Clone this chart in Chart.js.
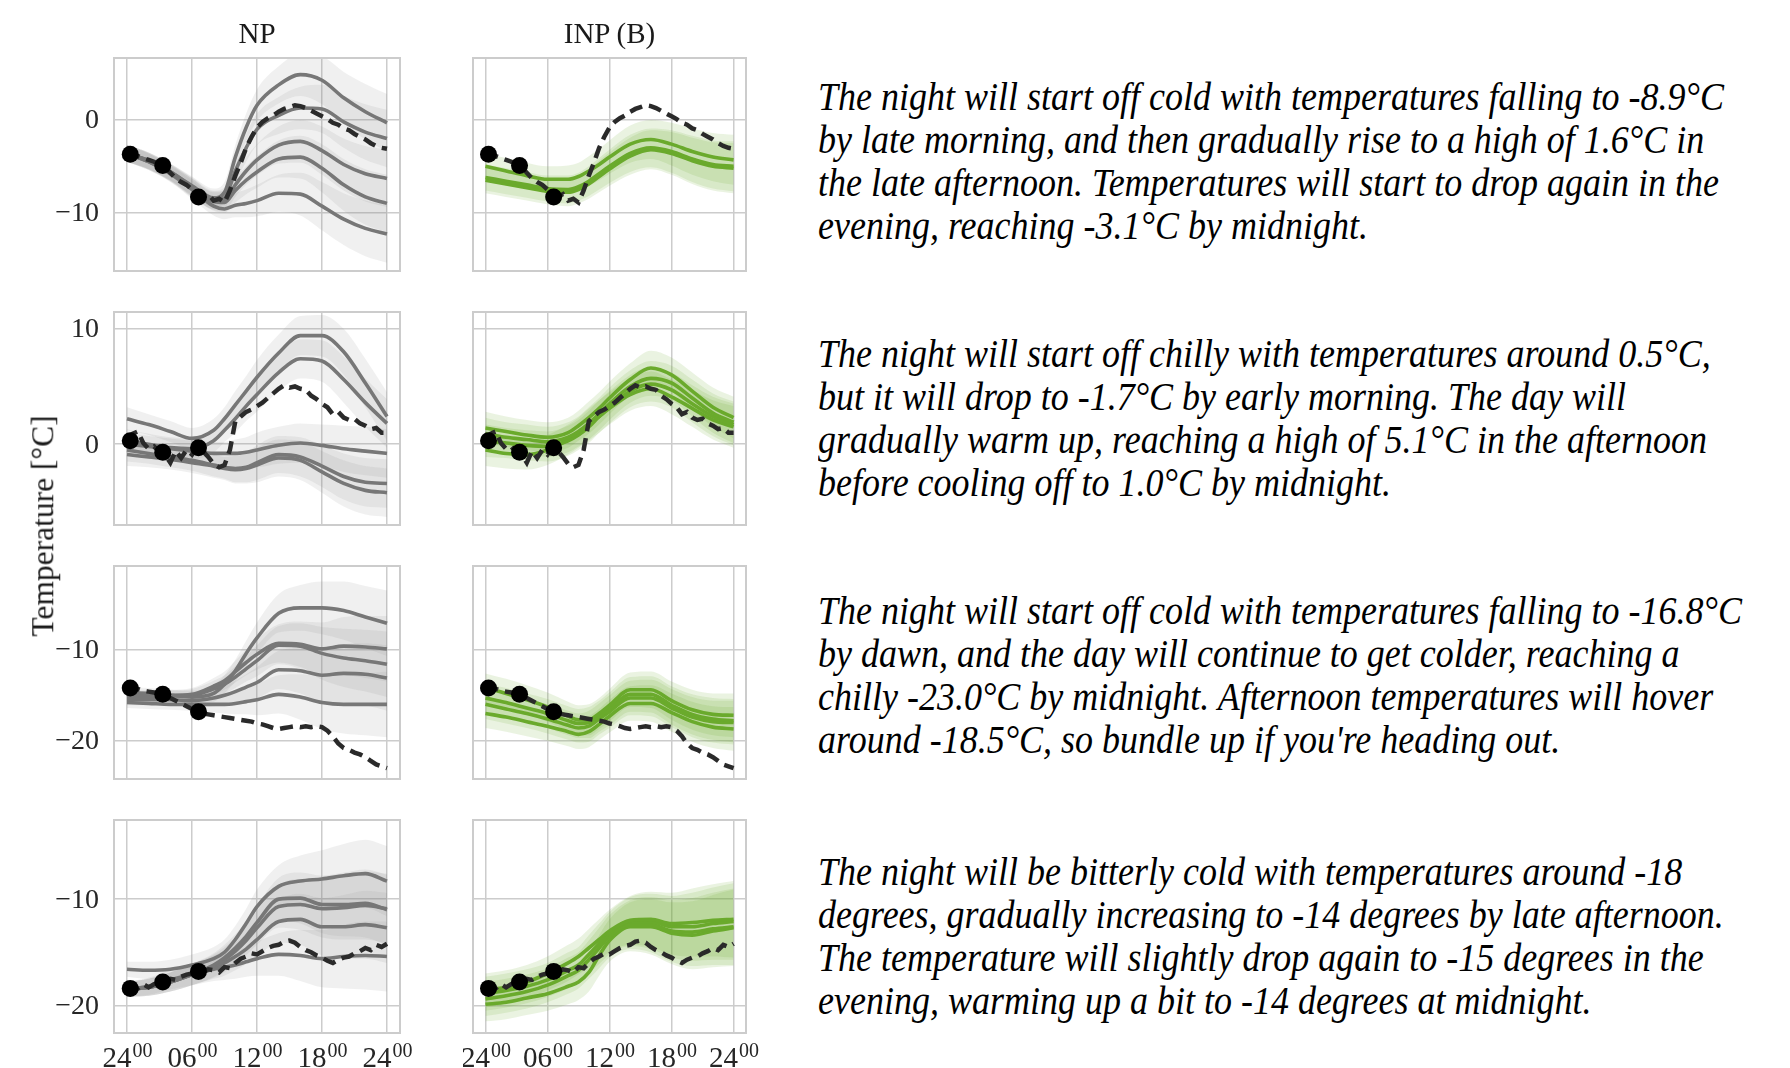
<!DOCTYPE html>
<html>
<head>
<meta charset="utf-8">
<script src="https://cdn.jsdelivr.net/npm/chart.js@4.4.1/dist/chart.umd.min.js"></script>
<style>
  html, body { margin: 0; padding: 0; background: #fff; width: 1790px; height: 1068px; overflow: hidden; }
  body { position: relative; font-family: "Liberation Serif", "Times New Roman", serif; color: #1a1a1a; }
  canvas { position: absolute; }
  .title { position: absolute; font-size: 29px; line-height: 1; white-space: nowrap; transform: translateX(-50%); }
  .ylab { position: absolute; font-size: 31.5px; line-height: 1; white-space: nowrap; transform: translate(-50%, -50%) rotate(-90deg); }
  .line { position: absolute; font-size: 40px; font-style: italic; line-height: 1; white-space: nowrap; transform-origin: 0 0; color: #000; }
</style>
</head>
<body>
<script>
// ---- time grids (hours after midnight) ----
const HOURS = [0, 2, 4, 6, 8, 9, 10, 11, 12, 14, 16, 18, 20, 22, 24];
const OBS_HOURS = [0, 0.5, 1, 1.5, 2, 2.5, 3, 3.5, 4, 4.5, 5, 5.5, 6, 6.5, 7, 7.5, 8, 8.5, 9, 9.5,
  10, 10.5, 11, 11.5, 12, 12.5, 13, 13.5, 14, 14.5, 15, 15.5, 16, 16.5, 17, 17.5, 18, 18.5, 19, 19.5,
  20, 20.5, 21, 21.5, 22, 22.5, 23, 23.5, 24];
const CTX_HOURS = [0.3, 3.3, 6.6];

// ---- axis ticks ----
const X_TICKS = [0, 6, 12, 18, 24];
const X_TICK_LABELS = ['24', '06', '12', '18', '24'];
const X_TICK_SUP = '00';
const ROW1_YTICKS = [0, -10];
const ROW2_YTICKS = [10, 0];
const ROW3_YTICKS = [-10, -20];
const ROW4_YTICKS = [-10, -20];

const COLUMN_TITLES = ['NP', 'INP (B)'];
const Y_TITLE = 'Temperature [°C]';

// ---- row 1 ----
const row1Obs = [-3.6, -3.7, -3.9, -4.1, -4.3, -4.5, -4.8, -5.1, -5.7, -6.3, -6.7, -7.0, -7.5, -8.1, -8.3, -8.0,
  -8.7, -8.5, -8.9, -7.6, -6.0, -4.6, -3.0, -1.8, -0.8, -0.2, 0.2, 0.5, 0.9, 1.2, 1.4, 1.6, 1.5, 1.3, 1.0, 0.7,
  0.4, 0.1, -0.3, -0.5, -0.9, -1.1, -1.5, -1.8, -2.1, -2.5, -2.8, -3.0, -3.1];
const row1Ctx = [-3.7, -4.9, -8.3];
const row1Np = [
  [-3.6, -4.4, -5.6, -7.1, -8.4, -7.8, -4.0, -0.8, 1.6, 3.8, 4.9, 4.3, 2.4, 0.9, -0.3],
  [-3.6, -4.4, -5.6, -7.2, -8.6, -8.4, -5.5, -3.0, -1.0, 0.5, 1.3, 1.2, -0.2, -1.3, -2.0],
  [-3.6, -4.4, -5.7, -7.3, -8.7, -8.7, -7.0, -5.5, -4.3, -2.7, -2.3, -3.3, -4.8, -5.8, -6.3],
  [-3.6, -4.5, -5.7, -7.3, -8.8, -8.9, -7.6, -6.5, -5.6, -4.2, -4.0, -5.2, -7.0, -8.3, -9.0],
  [-3.6, -4.5, -5.8, -7.5, -9.3, -9.6, -9.2, -9.0, -8.7, -7.9, -8.0, -9.3, -10.7, -11.7, -12.3]
];
const row1NpSpread = [0.9, 0.9, 0.9, 1.0, 1.0, 1.1, 1.3, 1.5, 1.7, 2.0, 2.3, 2.6, 2.8, 3.0, 3.1];
const row1Inp = [
  [-5.0, -5.5, -6.0, -6.4, -6.4, -6.1, -5.5, -4.8, -4.0, -2.6, -2.1, -2.6, -3.4, -4.0, -4.3],
  [-6.2, -6.6, -7.0, -7.4, -7.5, -7.2, -6.6, -5.8, -5.0, -3.6, -3.0, -3.4, -4.2, -4.8, -5.0],
  [-6.5, -6.9, -7.3, -7.7, -7.8, -7.5, -6.9, -6.1, -5.3, -3.9, -3.2, -3.6, -4.4, -5.0, -5.2]
];
const row1InpSpread = [1.4, 1.4, 1.4, 1.4, 1.5, 1.5, 1.6, 1.7, 1.8, 2.0, 2.1, 2.3, 2.5, 2.6, 2.7];

// ---- row 2 ----
const row2Obs = [0.4, 0.9, 1.1, 0.1, -0.4, -0.2, -0.7, -0.9, -1.6, -0.6, -1.2, -0.5, -0.9, -0.2, -0.6, -1.1,
  -1.7, -2.0, -1.8, -0.5, 2.0, 2.4, 2.8, 3.0, 3.3, 3.6, 4.0, 4.4, 4.8, 5.1, 4.9, 5.0, 4.8, 4.7, 4.2, 3.9,
  3.5, 3.2, 2.6, 2.8, 2.3, 2.1, 2.2, 1.8, 1.6, 1.3, 1.4, 1.0, 1.0];
const row2Ctx = [0.3, -0.7, -0.3];
const row2Np = [
  [2.2, 1.7, 1.1, 0.5, 1.2, 2.2, 3.4, 4.6, 5.8, 7.9, 9.4, 9.4, 8.0, 5.3, 2.4],
  [0.3, 0.0, -0.3, -0.4, 0.3, 1.2, 2.2, 3.3, 4.3, 6.2, 7.4, 7.2, 5.6, 3.6, 1.8],
  [0.0, -0.2, -0.4, -0.6, -0.8, -0.8, -0.8, -0.7, -0.5, -0.1, 0.1, -0.1, -0.4, -0.6, -0.8],
  [-0.5, -0.8, -1.1, -1.4, -1.8, -2.0, -2.1, -2.0, -1.6, -0.9, -1.1, -1.9, -2.8, -3.3, -3.4],
  [-0.9, -1.1, -1.3, -1.6, -1.9, -2.1, -2.2, -2.1, -1.8, -1.2, -1.4, -2.4, -3.4, -4.0, -4.2]
];
const row2NpSpread = [1.0, 0.9, 0.9, 0.9, 1.0, 1.0, 1.2, 1.3, 1.5, 1.6, 1.7, 1.8, 2.0, 2.1, 2.1];
const row2Inp = [
  [1.4, 1.1, 0.8, 0.6, 1.0, 1.6, 2.3, 3.1, 4.0, 5.6, 6.6, 6.0, 4.6, 3.2, 2.3],
  [0.9, 0.6, 0.4, 0.2, 0.6, 1.1, 1.8, 2.6, 3.5, 5.0, 5.7, 5.3, 4.0, 2.7, 1.9],
  [0.3, 0.1, -0.1, -0.2, 0.3, 0.8, 1.5, 2.4, 3.2, 4.6, 5.2, 4.7, 3.5, 2.4, 1.7],
  [-0.5, -0.8, -0.9, -0.5, 0.4, 1.0, 1.7, 2.4, 3.1, 4.3, 4.8, 4.1, 3.1, 2.1, 1.5]
];
const row2InpSpread = [1.4, 1.3, 1.3, 1.3, 1.3, 1.3, 1.4, 1.4, 1.4, 1.4, 1.5, 1.5, 1.6, 1.7, 1.8];

// ---- row 3 ----
const row3Obs = [-14.1, -14.2, -14.3, -14.5, -14.6, -14.7, -14.8, -15.0, -15.3, -15.6, -15.9, -16.2, -16.5,
  -16.8, -17.0, -17.1, -17.2, -17.3, -17.4, -17.5, -17.6, -17.7, -17.8, -17.9, -18.1, -18.2, -18.4, -18.6,
  -18.7, -18.6, -18.5, -18.4, -18.5, -18.4, -18.5, -18.4, -18.5, -18.9, -19.5, -20.3, -20.8, -21.0, -21.3,
  -21.5, -21.8, -22.2, -22.6, -22.8, -23.0];
const row3Ctx = [-14.2, -14.9, -16.8];
const row3Np = [
  [-14.7, -14.8, -15.0, -15.2, -14.8, -13.8, -12.3, -10.4, -8.7, -6.0, -5.4, -5.4, -5.7, -6.4, -7.1],
  [-15.0, -15.0, -15.0, -14.9, -14.0, -13.4, -12.4, -11.4, -10.5, -9.3, -9.4, -9.9, -9.6, -9.7, -9.9],
  [-15.2, -15.2, -15.1, -15.0, -14.3, -13.8, -13.0, -12.1, -11.2, -9.5, -9.6, -10.4, -10.9, -11.2, -11.6],
  [-15.5, -15.5, -15.5, -15.6, -15.3, -15.0, -14.6, -14.1, -13.6, -12.2, -12.3, -12.8, -12.6, -12.7, -13.1],
  [-15.8, -15.9, -16.0, -16.0, -16.0, -16.0, -15.9, -15.7, -15.5, -14.9, -15.2, -15.8, -16.0, -16.0, -16.0]
];
const row3NpSpread = [0.6, 0.6, 0.6, 0.7, 0.9, 1.0, 1.2, 1.4, 1.7, 2.1, 2.5, 2.9, 3.2, 3.4, 3.6];
const row3Inp = [
  [-14.2, -14.8, -15.5, -16.3, -17.3, -17.7, -17.7, -17.0, -16.1, -14.4, -14.4, -15.6, -16.6, -17.1, -17.2],
  [-15.3, -15.8, -16.4, -17.0, -17.8, -18.1, -18.0, -17.3, -16.5, -14.9, -14.9, -16.1, -17.1, -17.6, -17.8],
  [-16.0, -16.5, -17.0, -17.6, -18.3, -18.6, -18.4, -17.6, -16.8, -15.3, -15.3, -16.4, -17.4, -17.9, -18.0],
  [-17.0, -17.4, -17.9, -18.4, -19.0, -19.3, -19.0, -18.2, -17.3, -15.9, -15.9, -16.9, -17.9, -18.5, -18.7]
];
const row3InpSpread = [1.6, 1.6, 1.6, 1.6, 1.6, 1.6, 1.7, 1.7, 1.8, 1.9, 2.0, 2.1, 2.2, 2.3, 2.4];

// ---- row 4 ----
const row4Obs = [-18.5, -18.3, -18.4, -18.0, -18.3, -18.0, -17.9, -17.8, -17.5, -17.6, -17.3, -17.1, -17.0,
  -16.8, -16.9, -16.6, -16.7, -16.9, -16.4, -16.5, -16.0, -15.6, -15.4, -15.1, -15.2, -14.9, -14.6, -14.4,
  -14.3, -14.0, -13.9, -14.1, -14.5, -14.8, -15.0, -15.3, -15.5, -15.8, -16.0, -15.7, -15.5, -15.4, -15.1,
  -14.9, -14.6, -14.8, -14.3, -14.5, -14.2];
const row4Ctx = [-18.4, -17.8, -16.8];
const row4Np = [
  [-16.6, -16.7, -16.6, -16.2, -15.6, -15.0, -13.8, -12.3, -10.7, -8.8, -8.3, -8.1, -7.8, -7.6, -8.3],
  [-18.5, -18.3, -17.8, -17.1, -16.2, -15.5, -14.6, -13.5, -12.2, -10.0, -9.9, -10.5, -10.5, -10.4, -11.0],
  [-18.5, -18.3, -17.8, -17.1, -16.3, -15.7, -14.9, -13.9, -12.7, -10.7, -10.5, -10.9, -10.8, -10.6, -10.9],
  [-18.5, -18.3, -17.8, -17.1, -16.4, -16.0, -15.4, -14.7, -13.8, -12.1, -11.9, -12.6, -12.6, -12.4, -12.7],
  [-18.5, -18.2, -17.6, -17.1, -16.6, -16.4, -16.2, -15.9, -15.6, -15.2, -15.3, -15.6, -15.4, -15.3, -15.4]
];
const row4NpSpread = [0.7, 0.8, 0.9, 1.0, 1.1, 1.2, 1.3, 1.4, 1.6, 2.0, 2.4, 2.7, 3.0, 3.2, 3.3];
const row4Inp = [
  [-18.6, -18.3, -17.8, -17.0, -16.0, -15.4, -14.6, -13.8, -13.0, -12.0, -11.9, -12.3, -12.2, -12.0, -11.9],
  [-18.9, -18.6, -18.2, -17.6, -16.7, -16.2, -15.2, -14.2, -13.2, -12.1, -12.1, -12.6, -12.6, -12.3, -12.1],
  [-19.4, -19.1, -18.7, -18.1, -17.2, -16.7, -15.7, -14.6, -13.5, -12.4, -12.4, -13.0, -13.1, -12.8, -12.6],
  [-19.9, -19.7, -19.3, -18.9, -18.2, -17.8, -16.9, -15.3, -13.9, -12.6, -12.6, -13.2, -13.4, -13.0, -12.7]
];
const row4InpSpread = [1.6, 1.6, 1.6, 1.6, 1.7, 1.7, 1.8, 1.9, 2.0, 2.3, 2.6, 2.9, 3.2, 3.4, 3.6];

// ---- forecast texts, one array of lines per row ----
const TEXT_ROW1 = [
  'The night will start off cold with temperatures falling to -8.9°C',
  'by late morning, and then gradually rise to a high of 1.6°C in',
  'the late afternoon. Temperatures will start to drop again in the',
  'evening, reaching -3.1°C by midnight.'
];
const TEXT_ROW2 = [
  'The night will start off chilly with temperatures around 0.5°C,',
  'but it will drop to -1.7°C by early morning. The day will',
  'gradually warm up, reaching a high of 5.1°C in the afternoon',
  'before cooling off to 1.0°C by midnight.'
];
const TEXT_ROW3 = [
  'The night will start off cold with temperatures falling to -16.8°C',
  'by dawn, and the day will continue to get colder, reaching a',
  "chilly -23.0°C by midnight. Afternoon temperatures will hover",
  "around -18.5°C, so bundle up if you're heading out."
];
const TEXT_ROW4 = [
  'The night will be bitterly cold with temperatures around -18',
  'degrees, gradually increasing to -14 degrees by late afternoon.',
  'The temperature will slightly drop again to -15 degrees in the',
  'evening, warming up a bit to -14 degrees at midnight.'
];

// ---- styling ----
const GRAY_LINE = '#777777';
const GRAY_BAND = 'rgba(140,140,140,0.13)';
const GREEN_LINE = '#6aaa2c';
const GREEN_BAND = 'rgba(106,170,44,0.14)';
const OBS_COLOR = '#2a2a2a';
const GRID_COLOR = '#cccccc';
const TICK_COLOR = '#262626';

// ---- page layout (pixels) ----
const LAYOUT = {
  cols: [{ left: 114, right: 400 }, { left: 473, right: 746 }],
  rowTops: [58, 312, 566, 820],
  rowHeight: 213,
  xRange: [-1.2, 25.2],
  textLeft: 818,
  textFirstBaselines: [110, 367, 624, 885],
  textLineStep: 43.3,
  textLine1Width: 906
};

const ROWS = [
  { yRange: [-16.3, 6.7], yTicks: ROW1_YTICKS, obs: row1Obs, ctx: row1Ctx, np: row1Np, npSpread: row1NpSpread, inp: row1Inp, inpSpread: row1InpSpread, text: TEXT_ROW1 },
  { yRange: [-7.0, 11.45], yTicks: ROW2_YTICKS, obs: row2Obs, ctx: row2Ctx, np: row2Np, npSpread: row2NpSpread, inp: row2Inp, inpSpread: row2InpSpread, text: TEXT_ROW2 },
  { yRange: [-24.2, -0.8], yTicks: ROW3_YTICKS, obs: row3Obs, ctx: row3Ctx, np: row3Np, npSpread: row3NpSpread, inp: row3Inp, inpSpread: row3InpSpread, text: TEXT_ROW3 },
  { yRange: [-22.6, -2.55], yTicks: ROW4_YTICKS, obs: row4Obs, ctx: row4Ctx, np: row4Np, npSpread: row4NpSpread, inp: row4Inp, inpSpread: row4InpSpread, text: TEXT_ROW4 }
];

function pts(xs, ys) { return xs.map((x, i) => ({ x, y: ys[i] })); }

function modelDatasets(curves, spread, lineColor, bandColor) {
  const sets = [];
  curves.forEach(c => {
    sets.push({ data: pts(HOURS, c.map((v, i) => v + spread[i])), borderWidth: 0, pointRadius: 0,
      fill: false, order: 10, cubicInterpolationMode: 'monotone' });
    sets.push({ data: pts(HOURS, c.map((v, i) => v - spread[i])), borderWidth: 0, pointRadius: 0,
      fill: '-1', backgroundColor: bandColor, order: 10, cubicInterpolationMode: 'monotone' });
  });
  curves.forEach(c => {
    sets.push({ data: pts(HOURS, c), borderColor: lineColor, borderWidth: 3.6, pointRadius: 0,
      fill: false, order: 5, cubicInterpolationMode: 'monotone' });
  });
  return sets;
}

function fmtTick(v) { return v < 0 ? '\u2212' + Math.abs(v) : String(v); }

// frame, y tick labels and superscripted hour labels
const axesDecor = {
  id: 'axesDecor',
  afterDraw(chart, args, opts) {
    const { ctx, chartArea: a, scales: { x, y } } = chart;
    ctx.save();
    ctx.strokeStyle = GRID_COLOR;
    ctx.lineWidth = 2;
    ctx.strokeRect(a.left, a.top, a.right - a.left, a.bottom - a.top);
    ctx.fillStyle = TICK_COLOR;
    if (opts.showY) {
      ctx.font = '28px "Liberation Serif"';
      ctx.textAlign = 'right';
      ctx.textBaseline = 'middle';
      opts.yTicks.forEach(t => ctx.fillText(fmtTick(t), a.left - 15, y.getPixelForValue(t) + 1));
    }
    if (opts.showX) {
      ctx.textBaseline = 'alphabetic';
      ctx.textAlign = 'left';
      const base = a.bottom + 34;
      X_TICKS.forEach((t, i) => {
        ctx.font = '29px "Liberation Serif"';
        const wMain = ctx.measureText(X_TICK_LABELS[i]).width;
        ctx.font = '20px "Liberation Serif"';
        const wSup = ctx.measureText(X_TICK_SUP).width;
        const x0 = x.getPixelForValue(t) - (wMain + wSup) / 2;
        ctx.font = '29px "Liberation Serif"';
        ctx.fillText(X_TICK_LABELS[i], x0, base);
        ctx.font = '20px "Liberation Serif"';
        ctx.fillText(X_TICK_SUP, x0 + wMain + 1, base - 10);
      });
    }
    ctx.restore();
  }
};

function makePanel(rowIdx, colIdx) {
  const row = ROWS[rowIdx];
  const col = LAYOUT.cols[colIdx];
  const top = LAYOUT.rowTops[rowIdx];
  const pad = { left: colIdx === 0 ? 110 : 10, right: rowIdx === 3 ? 36 : 10, top: 10, bottom: rowIdx === 3 ? 42 : 10 };
  const w = col.right - col.left + pad.left + pad.right;
  const h = LAYOUT.rowHeight + pad.top + pad.bottom;
  const cv = document.createElement('canvas');
  cv.width = w; cv.height = h;
  cv.style.left = (col.left - pad.left) + 'px';
  cv.style.top = (top - pad.top) + 'px';
  cv.style.width = w + 'px'; cv.style.height = h + 'px';
  document.body.appendChild(cv);

  const curves = colIdx === 0 ? row.np : row.inp;
  const spread = colIdx === 0 ? row.npSpread : row.inpSpread;
  const datasets = modelDatasets(curves, spread, colIdx === 0 ? GRAY_LINE : GREEN_LINE, colIdx === 0 ? GRAY_BAND : GREEN_BAND);
  datasets.push({ data: pts(OBS_HOURS, row.obs), borderColor: OBS_COLOR, borderWidth: 4.5, borderDash: [13, 7],
    pointRadius: 0, fill: false, order: 2, tension: 0 });
  datasets.push({ data: pts(CTX_HOURS, row.ctx), showLine: false, pointRadius: 8.5, pointBackgroundColor: '#000',
    pointBorderWidth: 0, borderColor: '#000', order: 1 });

  new Chart(cv, {
    type: 'line',
    data: { datasets },
    options: {
      responsive: false, animation: false, devicePixelRatio: 1,
      layout: { padding: pad },
      plugins: {
        legend: { display: false }, tooltip: { enabled: false },
        axesDecor: { showY: colIdx === 0, showX: rowIdx === 3, yTicks: row.yTicks }
      },
      scales: {
        x: {
          type: 'linear', min: LAYOUT.xRange[0], max: LAYOUT.xRange[1],
          afterBuildTicks: s => { s.ticks = X_TICKS.map(v => ({ value: v })); },
          afterFit: s => { s.height = 0; },
          ticks: { display: false },
          grid: { color: GRID_COLOR, lineWidth: 1.5, drawTicks: false },
          border: { display: false }
        },
        y: {
          type: 'linear', min: row.yRange[0], max: row.yRange[1],
          afterBuildTicks: s => { s.ticks = row.yTicks.map(v => ({ value: v })); },
          afterFit: s => { s.width = 0; },
          ticks: { display: false },
          grid: { color: GRID_COLOR, lineWidth: 1.5, drawTicks: false },
          border: { display: false }
        }
      }
    },
    plugins: [axesDecor]
  });
}

for (let r = 0; r < 4; r++) { makePanel(r, 0); makePanel(r, 1); }

// column titles and shared y-axis title
COLUMN_TITLES.forEach((t, i) => {
  const d = document.createElement('div');
  d.className = 'title';
  d.textContent = t;
  d.style.left = ((LAYOUT.cols[i].left + LAYOUT.cols[i].right) / 2) + 'px';
  d.style.top = '19px';
  document.body.appendChild(d);
});
const yl = document.createElement('div');
yl.className = 'ylab';
yl.textContent = Y_TITLE;
yl.style.left = '43px';
yl.style.top = '526px';
document.body.appendChild(yl);

// forecast paragraphs, horizontally condensed to the text column width
const probe = document.createElement('span');
probe.className = 'line';
probe.style.visibility = 'hidden';
probe.textContent = TEXT_ROW1[0];
document.body.appendChild(probe);
const squeeze = LAYOUT.textLine1Width / probe.getBoundingClientRect().width;
probe.remove();
ROWS.forEach((row, r) => {
  row.text.forEach((s, k) => {
    const d = document.createElement('div');
    d.className = 'line';
    d.textContent = s;
    d.style.left = LAYOUT.textLeft + 'px';
    d.style.top = (LAYOUT.textFirstBaselines[r] + k * LAYOUT.textLineStep - 33.5) + 'px';
    d.style.transform = 'scaleX(' + squeeze.toFixed(4) + ')';
    document.body.appendChild(d);
  });
});
</script>
</body>
</html>
